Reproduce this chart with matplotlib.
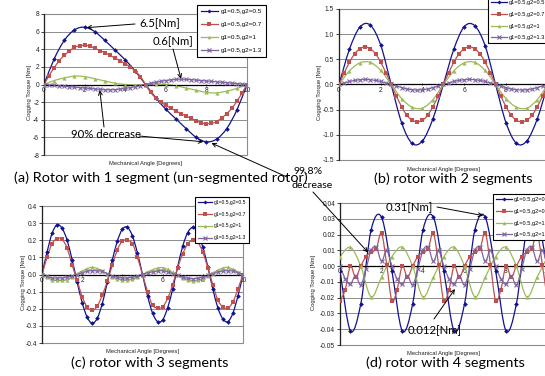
import numpy as np
import matplotlib
matplotlib.use('Agg')
import matplotlib.pyplot as plt
from matplotlib.path import Path
from matplotlib.patches import PathPatch, Rectangle
from matplotlib.lines import Line2D

W, H = 545, 376

# ---------------- data ----------------
SERIES = ['g1=0.5,g2=0.5', 'g1=0.5,g2=0.7', 'g1=0.5,g2=1', 'g1=0.5,g2=1.3']
COLORS = ['#12128E', '#C0504D', '#9BBB59', '#8064A2']
MARKERS = ['D', 's', '^', 'x']
MSIZES = [2.4, 3.4, 3.0, 3.0]

x_half = np.arange(0, 10.01, 0.5)      # 21 samples
x_quarter = np.arange(0, 10.01, 0.25)  # 41 samples

# (a) rotor with 1 segment
a_blue = [0, 2.9, 5.0, 6.2, 6.5, 6.0, 5.0, 3.9, 2.8, 1.5, 0, -1.5, -2.8, -3.9, -5.0, -6.0, -6.5, -6.2, -5.0, -2.9, 0]
a_red = [0, 1.0, 1.9, 2.7, 3.3, 3.8, 4.2, 4.4, 4.45, 4.35, 4.1, 3.85, 3.6, 3.3, 3.0, 2.7, 2.35, 2.0, 1.5, 0.9, 0,
         -0.9, -1.5, -2.0, -2.35, -2.7, -3.0, -3.3, -3.6, -3.85, -4.1, -4.35, -4.45, -4.4, -4.2, -3.8, -3.3, -2.7, -1.9, -1.0, 0]
a_green = [0, 0.45, 0.75, 0.95, 0.9, 0.65, 0.4, 0.15, 0.0, -0.05, 0.0, 0.05, 0.0, -0.15, -0.4, -0.65, -0.9, -0.95, -0.75, -0.45, 0]
a_purple = [0, -0.05, -0.1, -0.15, -0.2, -0.25, -0.3, -0.35, -0.4, -0.45, -0.5, -0.55, -0.58, -0.6, -0.58, -0.52, -0.45, -0.35, -0.25, -0.12, 0,
            0.12, 0.25, 0.35, 0.45, 0.52, 0.58, 0.6, 0.58, 0.55, 0.5, 0.45, 0.4, 0.35, 0.3, 0.25, 0.2, 0.15, 0.1, 0.05, 0]

# (b) rotor with 2 segments
b_blue = [0, 0.7, 1.14, 1.18, 0.78, 0, -0.76, -1.17, -1.12, -0.68, 0, 0.7, 1.15, 1.17, 0.77, 0, -0.76, -1.17, -1.12, -0.68, 0]
b_red = [0, 0.23, 0.44, 0.61, 0.71, 0.75, 0.71, 0.61, 0.44, 0.23, 0, -0.23, -0.44, -0.61, -0.71, -0.74, -0.71, -0.61, -0.44, -0.23,
         0, 0.23, 0.44, 0.61, 0.71, 0.75, 0.71, 0.61, 0.44, 0.23, 0, -0.23, -0.44, -0.61, -0.71, -0.74, -0.71, -0.61, -0.44, -0.23, 0]
b_green = [0, 0.27, 0.43, 0.44, 0.28, 0, -0.28, -0.45, -0.47, -0.3, 0, 0.27, 0.43, 0.44, 0.28, 0, -0.28, -0.45, -0.47, -0.3, 0]
b_purple = [0, 0.03, 0.06, 0.08, 0.095, 0.1, 0.095, 0.08, 0.06, 0.03, 0, -0.03, -0.06, -0.09, -0.1, -0.11, -0.1, -0.09, -0.06, -0.03,
            0, 0.03, 0.06, 0.08, 0.095, 0.1, 0.095, 0.08, 0.06, 0.03, 0, -0.03, -0.06, -0.09, -0.1, -0.11, -0.1, -0.09, -0.06, -0.03, 0]

# (c) rotor with 3 segments
c_blue = [0, 0.13, 0.24, 0.29, 0.27, 0.2, 0.085, -0.045, -0.165, -0.25, -0.285, -0.255, -0.17, -0.045, 0.085, 0.195, 0.265, 0.275, 0.225, 0.125,
          0.0, -0.125, -0.225, -0.275, -0.265, -0.195, -0.085, 0.045, 0.165, 0.245, 0.275, 0.245, 0.16, 0.045, -0.085, -0.195, -0.26, -0.275, -0.225, -0.125, 0.0]
c_red = [0, 0.1, 0.18, 0.21, 0.205, 0.155, 0.055, -0.035, -0.13, -0.19, -0.21, -0.185, -0.12, -0.04, 0.055, 0.145, 0.195, 0.2, 0.18, 0.1,
         0.0, -0.1, -0.18, -0.195, -0.19, -0.14, -0.06, 0.04, 0.12, 0.18, 0.2, 0.19, 0.13, 0.04, -0.06, -0.15, -0.19, -0.195, -0.16, -0.085, 0.0]
c_green = [0, -0.015, -0.03, -0.035, -0.035, -0.03, -0.015, 0.005, 0.02, 0.035, 0.042, 0.035, 0.02, 0.005, -0.012, -0.025, -0.03, -0.032, -0.028, -0.015,
           0.0, 0.015, 0.028, 0.038, 0.04, 0.03, 0.012, -0.005, -0.02, -0.032, -0.038, -0.035, -0.025, -0.008, 0.01, 0.025, 0.038, 0.042, 0.03, 0.015, 0.0]
c_purple = [0, -0.01, -0.02, -0.02, -0.02, -0.015, -0.01, 0.0, 0.01, 0.02, 0.022, 0.022, 0.018, 0.005, -0.008, -0.015, -0.02, -0.02, -0.015, -0.01,
            0.0, 0.01, 0.015, 0.02, 0.022, 0.015, 0.005, -0.005, -0.015, -0.022, -0.025, -0.022, -0.015, -0.005, 0.005, 0.015, 0.02, 0.022, 0.02, 0.01, 0.0]

# (d) rotor with 4 segments
d_blue = [-0.003, -0.041, -0.024, 0.023, 0.031, -0.003, -0.041, -0.024, 0.023, 0.031, -0.003, -0.041, -0.024, 0.023, 0.031,
          -0.003, -0.041, -0.024, 0.023, 0.031, -0.003]
d_red = [-0.022, -0.015, 0.0, -0.007, 0.0, 0.006, 0.009, 0.011, 0.021, 0.001,
         -0.022, -0.015, 0.0, -0.007, 0.0, 0.006, 0.009, 0.011, 0.021, 0.001,
         -0.022, -0.015, 0.0, -0.007, 0.0, 0.006, 0.009, 0.011, 0.021, 0.001,
         -0.022, -0.015, 0.0, -0.007, 0.0, 0.006, 0.009, 0.011, 0.021, 0.001, -0.022]
d_green = [0.006, 0.012, 0.0, -0.0195, -0.007, 0.006, 0.012, 0.0, -0.0195, -0.007, 0.006, 0.012, 0.0, -0.0195, -0.007,
           0.006, 0.012, 0.0, -0.0195, -0.007, 0.006]
d_purple = [0.0, -0.008, -0.0115, -0.006, -0.012, -0.002, 0.01, 0.012, 0.003, 0.01,
            0.0, -0.008, -0.0115, -0.006, -0.012, -0.002, 0.01, 0.012, 0.003, 0.01,
            0.0, -0.008, -0.0115, -0.006, -0.012, -0.002, 0.01, 0.012, 0.003, 0.01,
            0.0, -0.008, -0.0115, -0.006, -0.012, -0.002, 0.01, 0.012, 0.003, 0.01, 0.0]

y_ticks_a = [8, 6, 4, 2, 0, -2, -4, -6, -8]
y_ticks_b = [1.5, 1.0, 0.5, 0.0, -0.5, -1.0, -1.5]
y_ticks_c = [0.4, 0.3, 0.2, 0.1, 0.0, -0.1, -0.2, -0.3, -0.4]
y_ticks_d = [0.04, 0.03, 0.02, 0.01, 0.0, -0.01, -0.02, -0.03, -0.04, -0.05]
x_ticks = [0, 2, 4, 6, 8, 10]

CAPTIONS = ['(a) Rotor with 1 segment (un-segmented rotor)', '(b) rotor with 2 segments',
            '(c) rotor with 3 segments', '(d) rotor with 4 segments']
X_LABEL = 'Mechanical Angle [Degrees]'
Y_LABEL = 'Cogging Torque [Nm]'

# ---------------- helpers ----------------
TICK_FONT = 'Liberation Sans'
CAP_FONT = 'Lato'


def fx(px):
    return px / W


def fy(py):
    return 1 - py / H


def smooth_path(x, y):
    P = np.column_stack([np.asarray(x, float), np.asarray(y, float)])
    Pm = np.vstack([P[0], P, P[-1]])
    verts = [P[0]]
    codes = [Path.MOVETO]
    for i in range(len(P) - 1):
        p0, p1, p2, p3 = Pm[i], Pm[i + 1], Pm[i + 2], Pm[i + 3]
        verts += [p1 + (p2 - p0) / 6.0, p2 - (p3 - p1) / 6.0, p2]
        codes += [Path.CURVE4] * 3
    return Path(verts, codes)


fig = plt.figure(figsize=(W / 100, H / 100), dpi=100)


def make_axes(left, px_per_deg, top, bottom, ylim, yticks, yfmt, series, xs, legend_xy, leg_fs, leg_sp,
              ylab_x, xlab_y):
    right10 = left + 10 * px_per_deg
    ax = fig.add_axes([fx(left), fy(bottom), fx(right10 - left), (bottom - top) / H])
    ax.spines['bottom'].set_position(('data', 0))
    ax.set_xlim(0, 10)
    ax.set_ylim(*ylim)
    ax.set_axisbelow(True)
    ax.yaxis.grid(True, color='#8c8c8c', lw=0.7)
    ax.set_yticks(yticks)
    ax.set_yticklabels([yfmt.format(v) for v in yticks], fontsize=4.8, family=TICK_FONT)
    ax.set_xticks(x_ticks)
    ax.set_xticklabels([str(v) for v in x_ticks], fontsize=4.8, family=TICK_FONT)
    for s in ['top', 'right']:
        ax.spines[s].set_visible(False)
    ax.spines['bottom'].set_color('black')
    ax.spines['bottom'].set_linewidth(0.9)
    ax.spines['left'].set_color('#222222')
    ax.spines['left'].set_linewidth(0.9)
    ax.tick_params(axis='y', length=2.0, width=0.6, pad=1.5, colors='#222222')
    ax.tick_params(axis='x', length=2.0, width=0.6, pad=0.5, direction='inout', colors='#222222')
    ax.add_patch(Rectangle((0, 0), 1, 1, transform=ax.transAxes, fill=False, ec='#8c8c8c', lw=0.8,
                           clip_on=False, zorder=0.5))
    for (ys, x, c, m, ms) in zip(series, xs, COLORS, MARKERS, MSIZES):
        ax.add_patch(PathPatch(smooth_path(x, ys), fill=False, ec=c, lw=0.9, zorder=2))
        if m == 'x':
            ax.plot(x, ys, ls='none', marker=m, color=c, ms=ms, mew=0.8, zorder=3)
        else:
            ax.plot(x, ys, ls='none', marker=m, color=c, mec=c, ms=ms, mew=0, zorder=3)
    handles = [Line2D([], [], color=c, marker=m, ms=ms * 0.85, lw=0.9, mew=0.8 if m == 'x' else 0, mec=c)
               for c, m, ms in zip(COLORS, MARKERS, MSIZES)]
    leg = ax.legend(handles, SERIES, loc='upper left', bbox_to_anchor=(fx(legend_xy[0]), fy(legend_xy[1])),
                    bbox_transform=fig.transFigure, prop={'family': TICK_FONT, 'size': leg_fs},
                    frameon=True, fancybox=False, framealpha=1, edgecolor='black',
                    handlelength=2.7, handletextpad=0.35, labelspacing=leg_sp, borderpad=0.6, borderaxespad=0)
    leg.get_frame().set_linewidth(0.8)
    leg.set_zorder(10)
    fig.text(fx(ylab_x), fy((top + bottom) / 2 + 8), Y_LABEL, rotation=90, ha='center', va='center',
             fontsize=4.2, family=TICK_FONT, color='#222222')
    fig.text(fx((left + right10) / 2), fy(xlab_y), X_LABEL, ha='center', va='center',
             fontsize=4.2, family=TICK_FONT, color='#222222')
    return ax


ax_a = make_axes(44, 20.3, 14, 155, (-8, 8), y_ticks_a, '{:.0f}',
                 [a_blue, a_red, a_green, a_purple], [x_half, x_quarter, x_half, x_quarter],
                 (197, 5), 4.6, 1.15, 30, 164)
# b and d continue past the right edge of the image (x = 10 lies outside)
ax_b = make_axes(339, 20.875, 9, 160, (-1.5, 1.5), y_ticks_b, '{:.1f}',
                 [b_blue, b_red, b_green, b_purple], [x_half, x_quarter, x_half, x_quarter],
                 (488, -3), 4.1, 1.15, 319, 169)
ax_c = make_axes(42, 20.1, 206, 343, (-0.4, 0.4), y_ticks_c, '{:.1f}',
                 [c_blue, c_red, c_green, c_purple], [x_quarter, x_quarter, x_quarter, x_quarter],
                 (195, 197), 3.6, 1.35, 23, 352)
ax_d = make_axes(340, 20.75, 203, 345, (-0.05, 0.04), y_ticks_d, '{:.2f}',
                 [d_blue, d_red, d_green, d_purple], [x_half, x_quarter, x_half, x_quarter],
                 (493, 194), 4.1, 1.15, 313, 354)

# ---------------- captions ----------------
cap_pos = [(161, 178), (453, 179), (150, 363), (445, 363)]
for txt, (cx, cy) in zip(CAPTIONS, cap_pos):
    fig.text(fx(cx), fy(cy), txt, ha='center', va='center', fontsize=10.4, family=CAP_FONT, color='black')

# ---------------- annotations ----------------
ANN_FS = 8.2
arrow = dict(arrowstyle='->', lw=0.7, color='black', mutation_scale=7, shrinkA=0, shrinkB=0)


def arrow_to(ax, xy, start_px):
    ax.annotate('', xy=xy, xycoords='data', xytext=(fx(start_px[0]), fy(start_px[1])),
                textcoords='figure fraction', arrowprops=arrow, annotation_clip=False)


fig.text(fx(139), fy(24), '6.5[Nm]', ha='left', va='center', fontsize=ANN_FS, family=CAP_FONT)
arrow_to(ax_a, (2.1, 6.45), (135, 24))
fig.text(fx(153), fy(42), '0.6[Nm]', ha='left', va='center', fontsize=ANN_FS, family=CAP_FONT)
arrow_to(ax_a, (6.75, 0.65), (173, 49))
fig.text(fx(71), fy(135), '90% decrease', ha='left', va='center', fontsize=ANN_FS, family=CAP_FONT)
arrow_to(ax_a, (2.75, -0.65), (104, 127))
arrow_to(ax_a, (7.85, -6.5), (139, 136))
arrow_to(ax_a, (8.25, -6.65), (287, 177))
fig.text(fx(294), fy(172), '99.8%', ha='left', va='center', fontsize=ANN_FS * 0.92, family=CAP_FONT)
fig.text(fx(292), fy(185), 'decrease', ha='left', va='center', fontsize=ANN_FS * 0.92, family=CAP_FONT)
arrow_to(ax_d, (1.35, 0.0087), (313, 192))
fig.text(fx(386), fy(208), '0.31[Nm]', ha='left', va='center', fontsize=ANN_FS, family=CAP_FONT)
arrow_to(ax_d, (6.9, 0.032), (437, 207))
fig.text(fx(408), fy(331), '0.012[Nm]', ha='left', va='center', fontsize=ANN_FS, family=CAP_FONT)
arrow_to(ax_d, (5.54, -0.0145), (434, 319))

fig.savefig('out.png', dpi=100)
